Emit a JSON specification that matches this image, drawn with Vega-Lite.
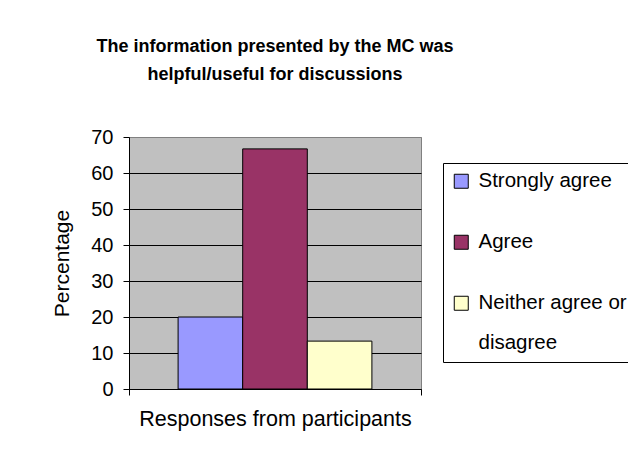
{
  "$schema": "https://vega.github.io/schema/vega-lite/v6.json",
  "width": 292,
  "height": 252,
  "autosize": "none",
  "padding": {"left": 129, "top": 137, "right": 207, "bottom": 71},
  "background": "white",
  "title": {
    "text": ["The information presented by the MC was", "helpful/useful for discussions"],
    "font": "Liberation Sans",
    "fontSize": 18,
    "fontWeight": "bold",
    "lineHeight": 28,
    "anchor": "middle",
    "frame": "group",
    "offset": 43,
    "color": "black"
  },
  "data": {
    "values": [
      {"group": "Responses from participants", "response": "Strongly agree", "percentage": 20},
      {"group": "Responses from participants", "response": "Agree", "percentage": 66.7},
      {"group": "Responses from participants", "response": "Neither agree or disagree", "percentage": 13.3}
    ]
  },
  "mark": {"type": "bar", "stroke": "black", "strokeWidth": 1},
  "encoding": {
    "x": {
      "field": "group",
      "type": "nominal",
      "scale": {"paddingInner": 0, "paddingOuter": 0},
      "axis": {
        "title": null,
        "labelAngle": 0,
        "labelFont": "Liberation Sans",
        "labelFontSize": 21.5,
        "labelColor": "black",
        "labelPadding": 13,
        "labelLimit": 400,
        "tickBand": "extent",
        "tickSize": 6,
        "tickColor": "black",
        "domainColor": "black",
        "grid": false
      }
    },
    "xOffset": {
      "field": "response",
      "type": "nominal",
      "sort": ["Strongly agree", "Agree", "Neither agree or disagree"],
      "scale": {"paddingInner": 0, "paddingOuter": 0.76}
    },
    "y": {
      "field": "percentage",
      "type": "quantitative",
      "scale": {"domain": [0, 70], "nice": false},
      "axis": {
        "title": "Percentage",
        "titleFont": "Liberation Sans",
        "titleFontSize": 21,
        "titleFontWeight": "normal",
        "titleColor": "black",
        "titlePadding": 18,
        "values": [0, 10, 20, 30, 40, 50, 60, 70],
        "labelFont": "Liberation Sans",
        "labelFontSize": 20,
        "labelColor": "black",
        "labelPadding": 10,
        "tickSize": 6,
        "tickColor": "black",
        "domainColor": "black",
        "grid": true,
        "gridColor": {"condition": {"test": "datum.value === 70", "value": "#808080"}, "value": "black"},
        "gridOpacity": 1,
        "gridWidth": 1
      }
    },
    "color": {
      "field": "response",
      "type": "nominal",
      "sort": ["Strongly agree", "Agree", "Neither agree or disagree"],
      "scale": {
        "domain": ["Strongly agree", "Agree", "Neither agree or disagree"],
        "range": ["#9999FF", "#993366", "#FFFFCC"]
      },
      "legend": {
        "title": null,
        "orient": "none",
        "legendX": 314,
        "legendY": 26,
        "direction": "vertical",
        "strokeColor": "black",
        "fillColor": "white",
        "padding": 8,
        "symbolType": "square",
        "symbolSize": 196,
        "symbolStrokeColor": "black",
        "symbolStrokeWidth": 1,
        "symbolOpacity": 1,
        "labelFont": "Liberation Sans",
        "labelFontSize": 20.5,
        "labelColor": "black",
        "labelOffset": 7,
        "labelLimit": 300,
        "rowPadding": 40,
        "labelExpr": "datum.label === 'Neither agree or disagree' ? ['Neither agree or', 'disagree'] : datum.label",
        "encode": {
          "labels": {
            "update": {
              "baseline": {"signal": "datum.value === 'Neither agree or disagree' ? 'alphabetic' : 'middle'"},
              "dy": {"signal": "datum.value === 'Neither agree or disagree' ? 6 : 0"},
              "lineHeight": {"value": 40}
            }
          }
        }
      }
    }
  },
  "config": {
    "view": {"fill": "#C0C0C0", "stroke": "#808080", "strokeWidth": 1}
  }
}
